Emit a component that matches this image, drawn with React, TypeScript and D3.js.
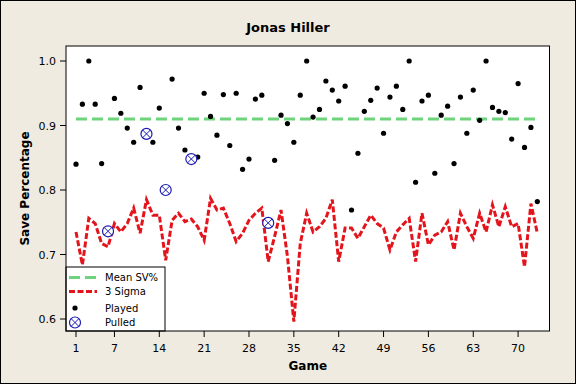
import React from 'react';
import * as d3 from 'd3';

// Jonas Hiller game-by-game save percentage (Minitab-style control chart)
const GAMES = d3.range(1, 74);

const SAVE_PCT = [
  0.840, 0.933, 1.000, 0.933, 0.841, 0.736, 0.942, 0.919, 0.896, 0.874,
  0.959, 0.887, 0.874, 0.927, 0.800, 0.972, 0.896, 0.862, 0.848, 0.851,
  0.950, 0.914, 0.885, 0.948, 0.869, 0.950, 0.832, 0.848, 0.941, 0.947,
  0.749, 0.846, 0.916, 0.903, 0.874, 0.947, 1.000, 0.913, 0.925, 0.969,
  0.955, 0.938, 0.961, 0.769, 0.857, 0.922, 0.939, 0.958, 0.888, 0.944,
  0.961, 0.925, 1.000, 0.812, 0.938, 0.947, 0.826, 0.916, 0.930, 0.841,
  0.944, 0.888, 0.955, 0.908, 1.000, 0.928, 0.922, 0.920, 0.879, 0.965,
  0.866, 0.897, 0.782,
];

const SIGMA3 = [
  0.735, 0.684, 0.756, 0.748, 0.717, 0.712, 0.748, 0.735, 0.748, 0.772,
  0.733, 0.785, 0.761, 0.761, 0.691, 0.753, 0.764, 0.751, 0.755, 0.743,
  0.722, 0.787, 0.769, 0.772, 0.748, 0.720, 0.733, 0.753, 0.764, 0.772,
  0.689, 0.728, 0.769, 0.697, 0.596, 0.717, 0.764, 0.735, 0.743, 0.756,
  0.785, 0.689, 0.741, 0.741, 0.725, 0.743, 0.761, 0.748, 0.741, 0.707,
  0.735, 0.746, 0.756, 0.689, 0.764, 0.715, 0.730, 0.735, 0.751, 0.707,
  0.764, 0.743, 0.725, 0.764, 0.735, 0.777, 0.743, 0.774, 0.743, 0.748,
  0.681, 0.779, 0.733,
];

const PULLED_GAMES = [6, 12, 15, 19, 31];
const MEAN_SV = 0.91;

const X_TICKS = [1, 7, 14, 21, 28, 35, 42, 49, 56, 63, 70];
const Y_TICKS = [0.6, 0.7, 0.8, 0.9, 1.0];

const FONT = 'Tahoma, "DejaVu Sans", sans-serif';

export default function App() {
  const width = 576;
  const height = 384;
  const plot = { left: 66, right: 549.5, top: 46, bottom: 331 };

  const x = d3.scaleLinear().domain([-0.56, 74.9]).range([plot.left, plot.right]);
  const y = d3.scaleLinear().domain([0.6, 1.0]).range([319, 61]);

  const sigmaLine = d3
    .line<number>()
    .x((_, i) => x(GAMES[i]))
    .y(d => y(d));

  const played = GAMES.map((g, i) => ({ g, v: SAVE_PCT[i] })).filter(
    d => !PULLED_GAMES.includes(d.g)
  );
  const pulled = GAMES.map((g, i) => ({ g, v: SAVE_PCT[i] })).filter(d =>
    PULLED_GAMES.includes(d.g)
  );

  const green = '#6fd37c';
  const red = '#e4141c';
  const blue = '#1b1bb4';

  const PulledMark = ({ cx, cy }: { cx: number; cy: number }) => {
    const r = 5.5;
    const k = r * 0.7;
    return (
      <g>
        <circle cx={cx} cy={cy} r={r} fill="white" stroke={blue} strokeWidth={1.2} />
        <line x1={cx - k} y1={cy - k} x2={cx + k} y2={cy + k} stroke={blue} strokeWidth={1} />
        <line x1={cx - k} y1={cy + k} x2={cx + k} y2={cy - k} stroke={blue} strokeWidth={1} />
      </g>
    );
  };

  const lg = { x: plot.left, y: 267, w: 99 };

  return (
    <svg
      width={width}
      height={height}
      style={{ position: 'fixed', left: 0, top: 0, fontFamily: FONT }}
    >
      <rect x={0.5} y={0.5} width={width - 1} height={height - 1} fill="#f0ebe1" stroke="#000" />

      <text x={288} y={32} textAnchor="middle" fontSize={13} fontWeight="bold" fill="#000">
        Jonas Hiller
      </text>

      <rect
        x={plot.left}
        y={plot.top}
        width={plot.right - plot.left}
        height={plot.bottom - plot.top}
        fill="#fff"
      />

      {/* mean line */}
      <line
        x1={x(1)}
        x2={x(73)}
        y1={y(MEAN_SV)}
        y2={y(MEAN_SV)}
        stroke={green}
        strokeWidth={3}
        strokeDasharray="11,5"
      />

      {/* 3 sigma line */}
      <path d={sigmaLine(SIGMA3) || ''} fill="none" stroke={red} strokeWidth={3} strokeDasharray="6,2.5" />

      {played.map(d => (
        <circle key={d.g} cx={x(d.g)} cy={y(d.v)} r={2.6} fill="#000" />
      ))}
      {pulled.map(d => (
        <PulledMark key={d.g} cx={x(d.g)} cy={y(d.v)} />
      ))}

      {/* legend */}
      <g>
        <rect
          x={lg.x}
          y={lg.y}
          width={lg.w}
          height={plot.bottom - lg.y}
          fill="#fff"
          stroke="#000"
        />
        <line x1={lg.x + 3} x2={lg.x + 31} y1={277.5} y2={277.5} stroke={green} strokeWidth={3} strokeDasharray="11,5" />
        <line x1={lg.x + 3} x2={lg.x + 31} y1={291.5} y2={291.5} stroke={red} strokeWidth={3} strokeDasharray="6,2.5" />
        <circle cx={lg.x + 9} cy={308} r={2.6} fill="#000" />
        <PulledMark cx={lg.x + 9} cy={322.5} />
        {['Mean SV%', '3 Sigma', 'Played', 'Pulled'].map((t, i) => (
          <text key={t} x={lg.x + 39} y={[281, 295, 312, 326][i]} fontSize={10} fill="#000">
            {t}
          </text>
        ))}
      </g>

      <rect
        x={plot.left}
        y={plot.top}
        width={plot.right - plot.left}
        height={plot.bottom - plot.top}
        fill="none"
        stroke="#000"
      />

      {/* y axis */}
      {Y_TICKS.map(t => (
        <g key={t}>
          <line x1={plot.left - 6} x2={plot.left} y1={y(t)} y2={y(t)} stroke="#000" />
          <text x={plot.left - 10} y={y(t) + 4} textAnchor="end" fontSize={11} fill="#000">
            {d3.format('.1f')(t)}
          </text>
        </g>
      ))}
      <text
        transform={`translate(29, ${(plot.top + plot.bottom) / 2}) rotate(-90)`}
        textAnchor="middle"
        fontSize={12}
        fontWeight="bold"
        fill="#000"
      >
        Save Percentage
      </text>

      {/* x axis */}
      {X_TICKS.map(t => (
        <g key={t}>
          <line x1={x(t)} x2={x(t)} y1={plot.bottom} y2={plot.bottom + 6} stroke="#000" />
          <text x={x(t)} y={plot.bottom + 21} textAnchor="middle" fontSize={11} fill="#000">
            {t}
          </text>
        </g>
      ))}
      <text
        x={(plot.left + plot.right) / 2}
        y={370}
        textAnchor="middle"
        fontSize={12}
        fontWeight="bold"
        fill="#000"
      >
        Game
      </text>
    </svg>
  );
}
